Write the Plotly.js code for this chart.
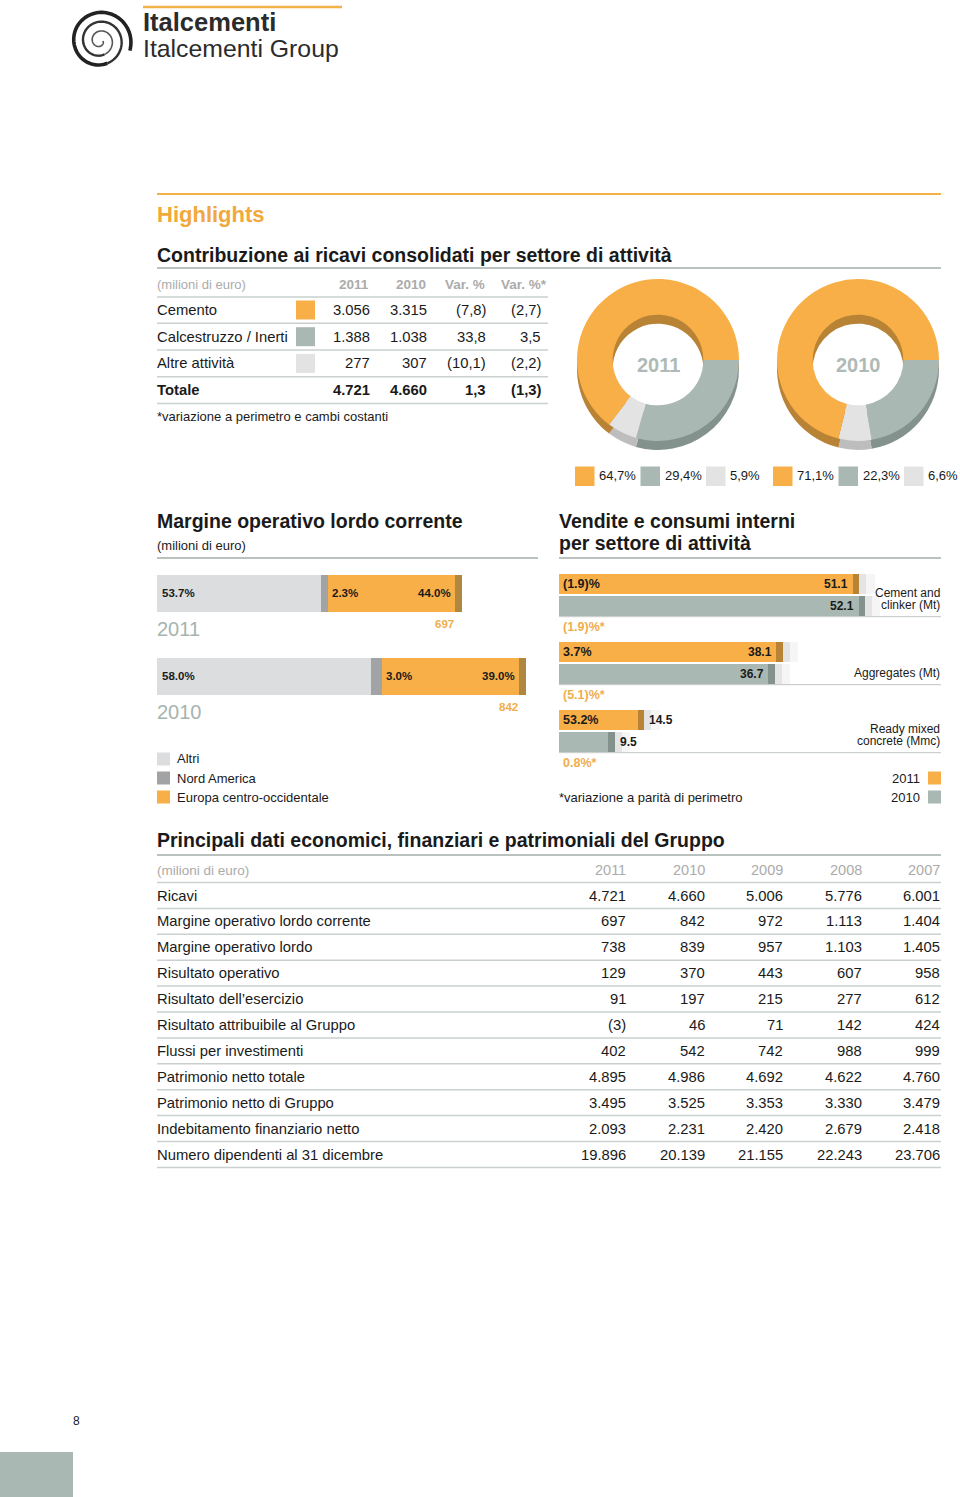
<!DOCTYPE html>
<html><head><meta charset="utf-8">
<script src="https://cdn.plot.ly/plotly-3.0.1.min.js"></script>
<style>body{margin:0;padding:0;background:#fff}#chart{width:960px;height:1497px}</style>
</head><body><div id="chart"></div>
<script>
// ---------- DATA ----------
const sectorNames = ['Cemento', 'Calcestruzzo / Inerti', 'Altre attività'];
const rev2011 = ['3.056', '1.388', '277'];
const rev2010 = ['3.315', '1.038', '307'];
const revVar = ['(7,8)', '33,8', '(10,1)'];
const revVarStar = ['(2,7)', '3,5', '(2,2)'];
const totalRow = ['Totale', '4.721', '4.660', '1,3', '(1,3)'];
const revHeader = ['(milioni di euro)', '2011', '2010', 'Var. %', 'Var. %*'];
const share2011 = [64.7, 29.4, 5.9];
const share2010 = [71.1, 22.3, 6.6];
const donutYears = ['2011', '2010'];

const molYears = ['2011', '2010'];
const molTotals = [697, 842];
const molRegions = ['Altri', 'Nord America', 'Europa centro-occidentale'];
const molAltri = [53.7, 58.0];
const molNordAmerica = [2.3, 3.0];
const molEuropa = [44.0, 39.0];

const volSectors = [['Cement and', 'clinker (Mt)'], ['Aggregates (Mt)'], ['Ready mixed', 'concrete (Mmc)']];
const vol2011 = [51.1, 38.1, 14.5];
const vol2010 = [52.1, 36.7, 9.5];
const volVar = ['(1.9)%', '3.7%', '53.2%'];
const volVarStar = ['(1.9)%*', '(5.1)%*', '0.8%*'];

const mainYears = ['2011', '2010', '2009', '2008', '2007'];
const mainRows = ['Ricavi', 'Margine operativo lordo corrente', 'Margine operativo lordo', 'Risultato operativo',
  'Risultato dell’esercizio', 'Risultato attribuibile al Gruppo', 'Flussi per investimenti', 'Patrimonio netto totale',
  'Patrimonio netto di Gruppo', 'Indebitamento finanziario netto', 'Numero dipendenti al 31 dicembre'];
const col2011 = ['4.721', '697', '738', '129', '91', '(3)', '402', '4.895', '3.495', '2.093', '19.896'];
const col2010 = ['4.660', '842', '839', '370', '197', '46', '542', '4.986', '3.525', '2.231', '20.139'];
const col2009 = ['5.006', '972', '957', '443', '215', '71', '742', '4.692', '3.353', '2.420', '21.155'];
const col2008 = ['5.776', '1.113', '1.103', '607', '277', '142', '988', '4.622', '3.330', '2.679', '22.243'];
const col2007 = ['6.001', '1.404', '1.405', '958', '612', '424', '999', '4.760', '3.479', '2.418', '23.706'];

// ---------- STYLE ----------
const W = 960, H = 1497;
const px = x => x / W, py = y => 1 - y / H;
const F = 'Liberation Sans, Arial, sans-serif';
const ORANGE = '#F8AF48', ORANGE_D = '#B98336', GREEN = '#A9B8B2', GREEN_D = '#84928D', LIGHT = '#E3E3E3';
const ALTRI = '#DCDDDE', NA = '#A2A3A5', TXT = '#1a1a1a', HDR = '#ABABAB', YEARC = '#A6B4AF', ORTXT = '#F0AE4C';
const LINE = '#B9C2BF';
const TS = 19.5;

const traces = [];
const shapes = [];
const ann = [];
function txt(x, y, text, o = {}) {
  ann.push({xref: 'paper', yref: 'paper', x: px(x), y: py(y), text, showarrow: false,
    xanchor: o.anchor || 'left', yanchor: 'middle', align: o.align || (o.anchor || 'left'),
    font: {family: F, size: o.size || 14, color: o.color || TXT}});
}
function hline(x0, x1, y, color, w) {
  shapes.push({type: 'line', xref: 'paper', yref: 'paper', x0: px(x0), x1: px(x1), y0: py(y), y1: py(y), line: {color, width: w}});
}
function rect(x0, y0, x1, y1, color) {
  shapes.push({type: 'rect', xref: 'paper', yref: 'paper', x0: px(x0), x1: px(x1), y0: py(y1), y1: py(y0), fillcolor: color, line: {width: 0}});
}

// ---------- LOGO ----------
(function () {
  const cx = 100, cy = 41;
  const parts = [[0.0, 1.2, '#555', 1.6], [1.2, 2.2, '#333', 2.4], [2.2, 3.05, '#222', 3.6]];
  parts.forEach(([t0, t1, c, w]) => {
    let d = '';
    for (let i = 0; i <= 80; i++) {
      const t = t0 + (t1 - t0) * i / 80;
      const r = 3 + 9.3 * t;
      const a = t * 2 * Math.PI;
      const x = cx + r * Math.cos(a), y = cy + r * Math.sin(a);
      d += (i ? 'L' : 'M') + px(x).toFixed(5) + ',' + py(y).toFixed(5);
    }
    shapes.push({type: 'path', xref: 'paper', yref: 'paper', path: d, line: {color: c, width: w}});
  });
})();
hline(143, 342, 7, '#F2B24A', 2.5);
txt(141, 22, '<b>Italcementi</b>', {size: 25.5, color: '#2b2b2b'});
txt(141, 48, 'Italcementi Group', {size: 24.8, color: '#2b2b2b'});

// ---------- HIGHLIGHTS ----------
hline(157, 941, 194, '#F4B149', 2);
txt(155, 214, '<b>Highlights</b>', {size: 22, color: '#F2A83A'});
txt(155, 255, '<b>Contribuzione ai ricavi consolidati per settore di attività</b>', {size: TS});
hline(157, 941, 268, LINE, 2);

// table 1
const c1 = [157, 371, 428, 487, 542];
revHeader.forEach((h, i) => {
  if (i === 0) txt(155, 284, h, {size: 13, color: HDR});
  else txt(i === 4 ? 549 : c1[i], 284, '<b>' + h + '</b>', {size: 13.5, color: HDR, anchor: 'right'});
});
hline(157, 548, 297, '#C9D0CD', 1.5);
const swatchCols = [ORANGE, GREEN, LIGHT];
sectorNames.forEach((s, r) => {
  const y = 310 + r * 26.7;
  txt(155, y, s, {size: 14.8});
  rect(296, y - 9.5, 315, y + 9.5, swatchCols[r]);
  [rev2011[r], rev2010[r], revVar[r], revVarStar[r]].forEach((v, i) => txt(c1[i + 1] + 1, y, v, {size: 14.8, anchor: 'right'}));
  hline(157, 548, y + 13.3, '#C9D0CD', 1.5);
});
totalRow.forEach((v, i) => {
  if (i === 0) txt(155, 390, '<b>' + v + '</b>', {size: 14.8});
  else txt(c1[i] + 1, 390, '<b>' + v + '</b>', {size: 14.8, anchor: 'right'});
});
hline(157, 548, 403.5, '#C9D0CD', 1.5);
txt(155, 417, '*variazione a perimetro e cambi costanti', {size: 13});

// donuts: clockwise from 3 o'clock -> Calcestruzzo, Altre, Cemento
const donutCentersX = [658, 858];
const shares = [share2011, share2010];
const order = [1, 2, 0];
const pick = a => order.map(i => a[i]);
shares.forEach((sh, k) => {
  const cx = donutCentersX[k], cy = 360, r = 81, depth = 9;
  const common = {type: 'pie', labels: pick(sectorNames), values: pick(sh), hole: 0.56, sort: false, direction: 'clockwise',
    rotation: 90, textinfo: 'none', hoverinfo: 'none', showlegend: false};
  traces.push(Object.assign({}, common, {marker: {colors: pick([ORANGE_D, GREEN_D, '#BDBDBD']), line: {width: 0}},
    domain: {x: [px(cx - r), px(cx + r)], y: [py(cy + r + depth), py(cy - r + depth)]}}));
  traces.push(Object.assign({}, common, {marker: {colors: pick([ORANGE, GREEN, LIGHT]), line: {width: 0}},
    domain: {x: [px(cx - r), px(cx + r)], y: [py(cy + r), py(cy - r)]}}));
  txt(cx, cy + 5, '<b>' + donutYears[k] + '</b>', {size: 20, color: '#AFBAB6', anchor: 'center'});
  // legend
  const x0 = [575, 773][k];
  sh.forEach((v, i) => {
    const sx = x0 + i * 65.5;
    rect(sx, 466.5, sx + 19.5, 486, swatchCols[i]);
    txt(sx + 22, 476, v.toFixed(1).replace('.', ',') + '%', {size: 13});
  });
});

// ---------- MOL ----------
txt(155, 521, '<b>Margine operativo lordo corrente</b>', {size: TS});
txt(155, 545, '(milioni di euro)', {size: 13});
hline(157, 538, 558, LINE, 2);
txt(557, 521, '<b>Vendite e consumi interni</b>', {size: TS});
txt(557, 543, '<b>per settore di attività</b>', {size: TS});
hline(559, 941, 558, LINE, 2);

const molPos = molYears.map((_, i) => molYears.length - 1 - i); // 2011 on top
const molSeries = [molAltri, molNordAmerica, molEuropa];
const molColors = [ALTRI, NA, ORANGE];
const BW = 0.446;
const cum = molTotals.map(() => 0);
molSeries.forEach((ser, s) => {
  const vals = ser.map((p, i) => molTotals[i] * p / 100);
  traces.push({type: 'bar', orientation: 'h', x: vals, y: molPos, base: cum.slice(), width: BW,
    marker: {color: molColors[s], line: {width: 0}}, xaxis: 'x', yaxis: 'y', hoverinfo: 'none', name: molRegions[s]});
  vals.forEach((v, i) => cum[i] += v);
});
const capM = 16;
traces.push({type: 'bar', orientation: 'h', x: molTotals.map(() => capM), y: molPos, base: molTotals.map(t => t - capM), width: BW,
  marker: {color: '#B0873F', line: {width: 0}}, xaxis: 'x', yaxis: 'y', hoverinfo: 'none'});
molYears.forEach((yr, i) => {
  const p = molPos[i], T = molTotals[i];
  const a = (x, y, text, o) => ann.push(Object.assign({xref: 'x', yref: 'y', x, y, text, showarrow: false, yanchor: 'middle',
    font: {family: F, size: o.size || 11.5, color: o.color || TXT}}, o.extra));
  a(0, p, '<b>' + molAltri[i].toFixed(1) + '%</b>', {extra: {xanchor: 'left', xshift: 3}});
  a(T * (molAltri[i] + molNordAmerica[i]) / 100, p, '<b>' + molNordAmerica[i].toFixed(1) + '%</b>', {extra: {xanchor: 'left', xshift: 2}});
  a(T, p, '<b>' + molEuropa[i].toFixed(1) + '%</b>', {extra: {xanchor: 'right', xshift: -9}});
  a(T, p - 0.37, '<b>' + T + '</b>', {color: ORTXT, size: 11.5, extra: {xanchor: 'right', xshift: -6}});
  a(0, p - 0.43, yr, {color: YEARC, size: 20, extra: {xanchor: 'left', xshift: -2}});
});
// legend MOL
[ALTRI, NA, ORANGE].forEach((c, i) => {
  const y = 759 + i * 19;
  rect(157, y - 6.5, 170, y + 6.5, c);
  txt(175, y, molRegions[i], {size: 13});
});

// ---------- VENDITE ----------
const volPos = volSectors.map((_, i) => volSectors.length - 1 - i);
const VW = 0.294, OFF = 0.015, capV = 1.1;
volSectors.forEach((_, i) => {
  const p = volPos[i];
  shapes.push({type: 'line', xref: 'paper', yref: 'y2', x0: px(559), x1: px(941), y0: p - OFF - VW - 0.01, y1: p - OFF - VW - 0.01,
    line: {color: '#BFC6C3', width: 1}, layer: 'below'});
});
// soft shadow after bars
[[vol2011, OFF], [vol2010, -OFF - VW]].forEach(([vals, off]) => {
  [0.22, 0.12].forEach((al, j) => {
    traces.push({type: 'bar', orientation: 'h', x: vals.map(() => 1.2 + j * 1.4), base: vals, y: volPos, offset: off, width: VW,
      marker: {color: 'rgba(170,170,170,' + al + ')', line: {width: 0}}, xaxis: 'x2', yaxis: 'y2', hoverinfo: 'none'});
  });
});
traces.push({type: 'bar', orientation: 'h', x: vol2011, y: volPos, offset: OFF, width: VW, marker: {color: ORANGE, line: {width: 0}},
  xaxis: 'x2', yaxis: 'y2', hoverinfo: 'none', name: '2011'});
traces.push({type: 'bar', orientation: 'h', x: vol2010, y: volPos, offset: -OFF - VW, width: VW, marker: {color: GREEN, line: {width: 0}},
  xaxis: 'x2', yaxis: 'y2', hoverinfo: 'none', name: '2010'});
traces.push({type: 'bar', orientation: 'h', x: vol2011.map(() => capV), base: vol2011.map(v => v - capV), y: volPos, offset: OFF, width: VW,
  marker: {color: ORANGE_D, line: {width: 0}}, xaxis: 'x2', yaxis: 'y2', hoverinfo: 'none'});
traces.push({type: 'bar', orientation: 'h', x: vol2010.map(() => capV), base: vol2010.map(v => v - capV), y: volPos, offset: -OFF - VW, width: VW,
  marker: {color: GREEN_D, line: {width: 0}}, xaxis: 'x2', yaxis: 'y2', hoverinfo: 'none'});
volSectors.forEach((s, i) => {
  const p = volPos[i];
  const yTop = p + OFF + VW / 2, yBot = p - OFF - VW / 2;
  const a = (x, y, text, o) => ann.push(Object.assign({xref: 'x2', yref: 'y2', x, y, text, showarrow: false, yanchor: 'middle',
    font: {family: F, size: o.size || 12, color: o.color || TXT}}, o.extra));
  a(0, yTop, '<b>' + volVar[i] + '</b>', {size: 12.5, extra: {xanchor: 'left', xshift: 2}});
  const inside = vol2011[i] > 20;
  [[vol2011[i], yTop], [vol2010[i], yBot]].forEach(([v, y]) => {
    if (inside) a(v, y, '<b>' + v.toFixed(1) + '</b>', {extra: {xanchor: 'right', xshift: -9}});
    else a(v, y, '<b>' + v.toFixed(1) + '</b>', {extra: {xanchor: 'left', xshift: 3}});
  });
  a(0, p - 0.47, '<b>' + volVarStar[i] + '</b>', {color: ORTXT, size: 12.5, extra: {xanchor: 'left', xshift: 2}});
  s.forEach((line, j) => {
    ann.push({xref: 'paper', yref: 'y2', x: px(942), y: p - OFF - VW, yshift: 2 + (s.length - 1 - j) * 12, text: line, showarrow: false,
      xanchor: 'right', yanchor: 'bottom', align: 'right', font: {family: F, size: 12, color: TXT}});
  });
});
txt(557, 797, '*variazione a parità di perimetro', {size: 13});
txt(922, 778, '2011', {size: 13, anchor: 'right'});
txt(922, 797, '2010', {size: 13, anchor: 'right'});
rect(928, 771.5, 941, 784.5, ORANGE);
rect(928, 790.5, 941, 803.5, GREEN);

// ---------- MAIN TABLE ----------
txt(155, 840, '<b>Principali dati economici, finanziari e patrimoniali del Gruppo</b>', {size: TS});
hline(157, 941, 855, LINE, 2);
const colX = [627, 706, 784, 863, 941];
txt(155, 870, '(milioni di euro)', {size: 13.5, color: HDR});
mainYears.forEach((y, i) => txt(colX[i] + 1, 870, y, {size: 14.5, color: HDR, anchor: 'right'}));
hline(157, 941, 882.5, '#C9D0CD', 1.5);
const cols = [col2011, col2010, col2009, col2008, col2007];
mainRows.forEach((r, k) => {
  const y = 895.5 + k * 25.9;
  txt(155, y, r, {size: 14.8});
  cols.forEach((c, i) => txt(colX[i] + 1, y, c[k], {size: 14.8, anchor: 'right'}));
  hline(157, 941, y + 12.9, '#C9D0CD', 1.5);
});

// ---------- PAGE FOOTER ----------
txt(76, 1421, '8', {size: 12, anchor: 'center'});
rect(0, 1452, 73, 1497, '#A9B8B2');

const ax = {showgrid: false, zeroline: false, showticklabels: false, ticks: '', showline: false, fixedrange: true};
const layout = {
  width: W, height: H, margin: {l: 0, r: 0, t: 0, b: 0}, paper_bgcolor: '#fff', plot_bgcolor: 'rgba(0,0,0,0)',
  showlegend: false, barmode: 'overlay', bargap: 0,
  xaxis: Object.assign({}, ax, {domain: [px(157), px(526)], range: [0, Math.max(...molTotals)], anchor: 'y'}),
  yaxis: Object.assign({}, ax, {domain: [py(718), py(552)], range: [-0.5, 1.5], anchor: 'x'}),
  xaxis2: Object.assign({}, ax, {domain: [px(559), px(941)], range: [0, 65], anchor: 'y2'}),
  yaxis2: Object.assign({}, ax, {domain: [py(765), py(561)], range: [-0.5, 2.5], anchor: 'x2'}),
  shapes, annotations: ann
};
Plotly.newPlot('chart', traces, layout, {displayModeBar: false, staticPlot: true});
</script></body></html>
